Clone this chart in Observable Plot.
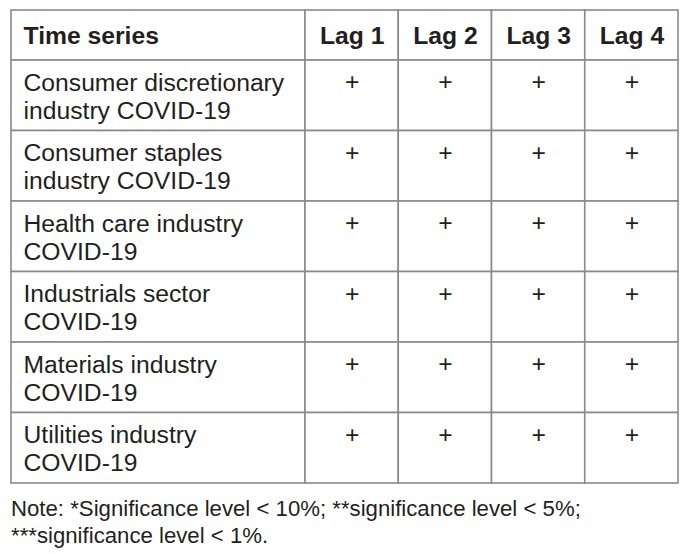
<!DOCTYPE html>
<html>
<head>
<meta charset="utf-8">
<script src="https://cdn.jsdelivr.net/npm/d3@7"></script>
<script src="https://cdn.jsdelivr.net/npm/@observablehq/plot@0.6"></script>
<style>
  html, body { margin: 0; padding: 0; background: #fff; }
  #note { font-family: "Liberation Sans", Arial, sans-serif; font-size: 22.2px; color: #231f20; line-height: 27px; margin: 5px 0 0 11px; white-space: nowrap; }
</style>
</head>
<body>
<div id="chart"></div>
<div id="note">Note: *Significance level &lt; 10%; **significance level &lt; 5%;<br>***significance level &lt; 1%.</div>
<script>
// ---- data ----
const columns = ["Time series", "Lag 1", "Lag 2", "Lag 3", "Lag 4"];
const rowLabels = [
  "Consumer discretionary\nindustry COVID-19",
  "Consumer staples\nindustry COVID-19",
  "Health care industry\nCOVID-19",
  "Industrials sector\nCOVID-19",
  "Materials industry\nCOVID-19",
  "Utilities industry\nCOVID-19"
];
const lag1 = ["+", "+", "+", "+", "+", "+"];
const lag2 = ["+", "+", "+", "+", "+", "+"];
const lag3 = ["+", "+", "+", "+", "+", "+"];
const lag4 = ["+", "+", "+", "+", "+", "+"];

// ---- layout ----
const W = 699, H = 490;
const tblLeft = 11, firstColW = 294, lagColW = 93.25;
const tblTop = 10, headerH = 50, rowH = 70.5;
const colEdges = [tblLeft];
columns.forEach((c, i) => colEdges.push(colEdges[i] + (i === 0 ? firstColW : lagColW)));
const rowEdges = [tblTop, tblTop + headerH];
rowLabels.forEach((r, i) => rowEdges.push(rowEdges[i + 1] + rowH));

const lagValues = [lag1, lag2, lag3, lag4];
const cells = [];
for (let r = 0; r <= rowLabels.length; r++) {
  for (let c = 0; c < columns.length; c++) {
    let text;
    if (r === 0) text = columns[c];
    else if (c === 0) text = rowLabels[r - 1];
    else text = lagValues[c - 1][r - 1];
    cells.push({
      r, c, text,
      x1: colEdges[c], x2: colEdges[c + 1],
      y1: rowEdges[r], y2: rowEdges[r + 1]
    });
  }
}
const headFirst = cells.filter(d => d.r === 0 && d.c === 0);
const headLags = cells.filter(d => d.r === 0 && d.c > 0);
const labels = cells.filter(d => d.r > 0 && d.c === 0);
const vals = cells.filter(d => d.r > 0 && d.c > 0);

const font = "Liberation Sans, Arial, sans-serif";
const ink = "#231f20";
const fs = 24.7;

const chart = Plot.plot({
  width: W, height: H,
  margin: 0,
  x: {type: "linear", domain: [0, W], range: [0, W], axis: null},
  y: {type: "linear", domain: [0, H], range: [0, H], axis: null},
  style: {fontFamily: font, background: "#fff"},
  marks: [
    Plot.rect(cells, {x1: "x1", x2: "x2", y1: "y1", y2: "y2", fill: "#fff", stroke: "#8a8a8a", strokeWidth: 1.6}),
    Plot.text(headFirst, {
      x: d => d.x1 + 12, y: d => (d.y1 + d.y2) / 2 + 1,
      text: "text", textAnchor: "start", lineAnchor: "middle",
      fontSize: fs, fontWeight: "bold", fill: ink
    }),
    Plot.text(headLags, {
      x: d => (d.x1 + d.x2) / 2, y: d => (d.y1 + d.y2) / 2 + 1,
      text: "text", textAnchor: "middle", lineAnchor: "middle",
      fontSize: fs, fontWeight: "bold", fill: ink
    }),
    Plot.text(labels, {
      x: d => d.x1 + 12, y: d => d.y1 + 10,
      text: "text", textAnchor: "start", lineAnchor: "top",
      lineHeight: 1.14, fontSize: fs, fill: ink
    }),
    Plot.text(vals, {
      x: d => (d.x1 + d.x2) / 2, y: d => d.y1 + 12,
      text: "text", textAnchor: "middle", lineAnchor: "top",
      fontSize: fs, fill: ink
    })
  ]
});
document.getElementById("chart").appendChild(chart);
</script>
</body>
</html>
